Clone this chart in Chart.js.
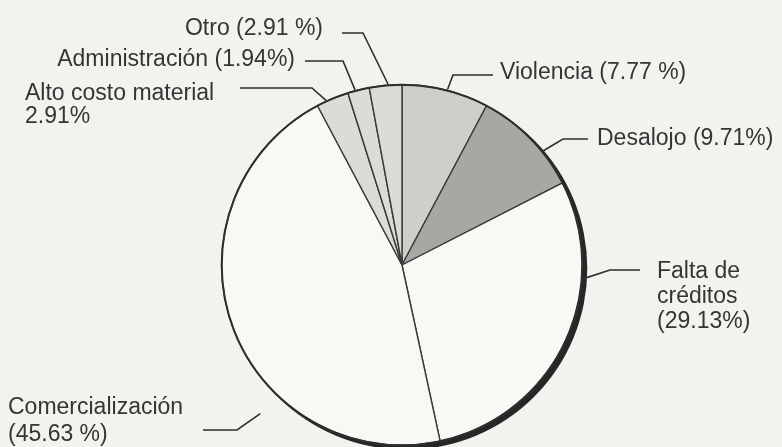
<!DOCTYPE html>
<html lang="es">
<head>
    <meta charset="UTF-8">
    <script src="https://cdn.jsdelivr.net/npm/chart.js"></script>
    <title>Causas</title>
    <style>
        body { margin: 0; background: #f3f2ee; }
        #grafico { display: block; }
    </style>
</head>
<body>
    <canvas id="grafico" width="782" height="447"></canvas>
<script>
    // datos (en orden horario desde las 12)
    const categorias = ['Violencia', 'Desalojo', 'Falta de créditos', 'Comercialización', 'Alto costo material', 'Administración', 'Otro'];
    const porcentajes = [7.77, 9.71, 29.13, 45.63, 2.91, 1.94, 2.91];
    const etiquetas = [
        ['Violencia (7.77 %)'],
        ['Desalojo (9.71%)'],
        ['Falta de', 'créditos', '(29.13%)'],
        ['Comercialización', '(45.63 %)'],
        ['Alto costo material', '2.91%'],
        ['Administración (1.94%)'],
        ['Otro (2.91 %)']
    ];
    const colores = ['#cfcecb', '#a8a7a3', '#f8f8f5', '#f8f8f5', '#dcdbd7', '#dcdbd7', '#dcdbd7'];

    // posicion de cada llamada: donde toca el borde (fraccion del sector), codo, fin de linea, texto
    const llamadas = [
        { frac: 0.52, sep: 1, codo: [453, 75], fin: [493, 75], tx: 500, ty: [73], align: 'left' },
        { frac: 0.66, sep: 1, codo: [563, 139], fin: [588, 139], tx: 597, ty: [139], align: 'left' },
        { frac: 0.30, sep: 1, codo: [610, 270], fin: [640, 270], tx: 657, ty: [272, 297, 322], align: 'left' },
        { frac: 0.34, sep: 25, codo: [237, 430], fin: [203, 430], tx: 8, ty: [408, 435], align: 'left' },
        { frac: 0.30, sep: 1, codo: [312, 88], fin: [240, 88], tx: 25, ty: [94, 117], align: 'left' },
        { frac: 0.35, sep: 1, codo: [343, 61], fin: [305, 61], tx: 295, ty: [60], align: 'right' },
        { frac: 0.58, sep: 1, codo: [363, 33], fin: [342, 33], tx: 323, ty: [29], align: 'right' }
    ];

    const sombra = {
        id: 'sombra',
        beforeDatasetsDraw(chart) {
            const arco = chart.getDatasetMeta(0).data[0];
            const ctx = chart.ctx;
            ctx.save();
            ctx.fillStyle = '#262626';
            ctx.beginPath();
            ctx.arc(arco.x + 4, arco.y + 3.5, arco.outerRadius + 1, 0, Math.PI * 2);
            ctx.fill();
            ctx.restore();
        },
        afterDatasetsDraw(chart) {
            const meta = chart.getDatasetMeta(0);
            const ctx = chart.ctx;
            const a0 = meta.data[0];
            ctx.save();
            ctx.strokeStyle = '#2e2e2e';
            ctx.lineWidth = 2;
            ctx.beginPath();
            ctx.arc(a0.x, a0.y, a0.outerRadius, 0, Math.PI * 2);
            ctx.stroke();

            ctx.font = '23px "Liberation Sans", Arial, sans-serif';
            ctx.fillStyle = '#353535';
            ctx.textBaseline = 'middle';
            ctx.lineWidth = 1.6;
            for (let i = 0; i < meta.data.length; i++) {
                const arco = meta.data[i];
                const ll = llamadas[i];
                const ang = arco.startAngle + (arco.endAngle - arco.startAngle) * ll.frac;
                const r = arco.outerRadius + ll.sep;
                ctx.beginPath();
                ctx.moveTo(arco.x + Math.cos(ang) * r, arco.y + Math.sin(ang) * r);
                ctx.lineTo(ll.codo[0], ll.codo[1]);
                ctx.lineTo(ll.fin[0], ll.fin[1]);
                ctx.stroke();
                ctx.textAlign = ll.align;
                etiquetas[i].forEach(function (linea, j) {
                    ctx.fillText(linea, ll.tx, ll.ty[j]);
                });
            }
            ctx.restore();
        }
    };

    new Chart(document.getElementById('grafico'), {
        type: 'pie',
        data: {
            labels: categorias,
            datasets: [{
                data: porcentajes,
                backgroundColor: colores,
                borderColor: '#3a3a3a',
                borderWidth: 1.4
            }]
        },
        options: {
            responsive: false,
            animation: false,
            layout: { padding: { top: 84, bottom: 1, left: 221, right: 199 } },
            plugins: {
                legend: { display: false },
                tooltip: { enabled: false }
            }
        },
        plugins: [sombra]
    });
</script>
</body>
</html>
